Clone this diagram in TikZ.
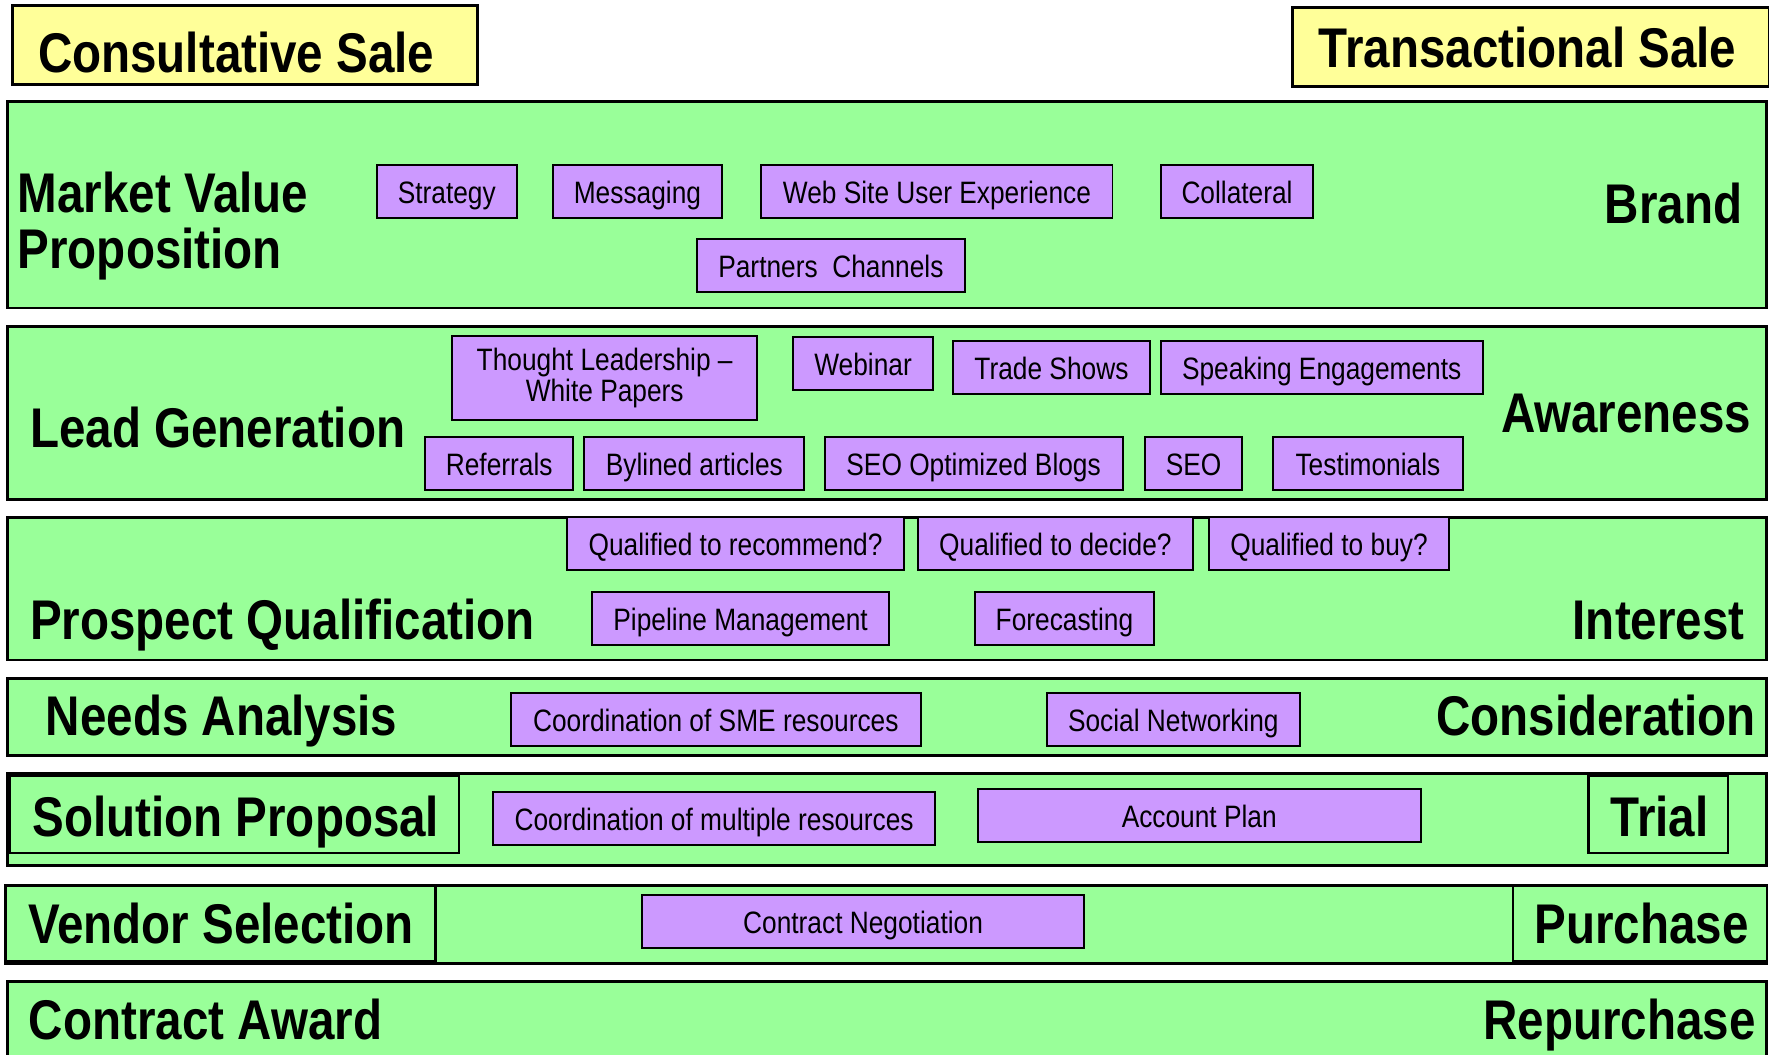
\documentclass[tikz,border=0pt]{standalone}
\usepackage{fontspec}
\setmainfont{Liberation Sans}[FakeStretch=0.85]
\usetikzlibrary{fit}
\definecolor{salebg}{HTML}{FFFF99}
\definecolor{bandbg}{HTML}{99FF99}
\definecolor{itembg}{HTML}{CC99FF}

\begin{document}
\begin{tikzpicture}[x=0.01cm, y=-0.01cm,
    band/.style={draw, line width=0.75pt, fill=bandbg, inner sep=0pt},
    framebox/.style={draw, line width=0.55pt, fill=bandbg, inner sep=0pt},
    sale/.style={draw, line width=0.75pt, fill=salebg, inner sep=0pt},
    itembox/.style={draw, line width=0.5pt, fill=itembg, inner sep=0pt, align=center,
        minimum height=0.47cm, font=\fontsize{7.8}{8}\selectfont},
    item/.style={itembox, text height=0.6em, text depth=0pt},
    head/.style={inner sep=0pt, align=left, font=\fontsize{14.1}{14.3}\selectfont\bfseries}]
    \useasboundingbox (0,0) rectangle (1568,935);

    \node[sale, fit={(11,5) (423,75)}] (consbox) {};
    \node[head, anchor=base west] (cons) at (33,64) {Consultative Sale};
    \node[sale, fit={(1146,7) (1568,77)}] (transbox) {};
    \node[head, anchor=base] (trans) at (1354,60) {Transactional Sale};

    \node[band, fit={(7,90) (1566,273)}] (band1) {};
    \node[band, fit={(7,289) (1566,443)}] (band2) {};
    \node[band, fit={(7,459) (1566,585)}] (band3) {};
    \node[band, fit={(7,601) (1566,670)}] (band4) {};
    \node[band, fit={(7,686) (1566,767)}] (band5) {};
    \node[band, fit={(5,785) (1566,854)}] (band6) {};
    \node[band, fit={(7,870) (1566,950)}] (band7) {};

    \node[head, anchor=base west] (mvp) at (15,188) {Market Value};
    \node[head, anchor=base west] (mvp2) at (15,238) {Proposition};
    \node[head, anchor=base east] (brand) at (1545,198) {Brand};
    \node[item, minimum width=1.24cm] (strat) at (396,169.5) {Strategy};
    \node[item, minimum width=1.50cm] (msg) at (565,169.5) {Messaging};
    \node[item, minimum width=3.11cm] (web) at (830.5,169.5) {Web Site User Experience};
    \node[item, minimum width=1.35cm] (coll) at (1096.5,169.5) {Collateral};
    \node[item, minimum width=2.37cm] (partn) at (736.5,235.5) {Partners\ \ Channels};

    \node[head, anchor=base west] (lead) at (26,397) {Lead Generation};
    \node[head, anchor=base east] (aware) at (1553,383) {Awareness};
    \node[itembox, minimum width=2.70cm, minimum height=0.75cm] (thought) at (536,335) {Thought Leadership --\\White Papers};
    \node[item, minimum width=1.24cm] (webinar) at (765,322.5) {Webinar};
    \node[item, minimum width=1.74cm] (trade) at (932,325.5) {Trade Shows};
    \node[item, minimum width=2.85cm] (speak) at (1171.5,325.5) {Speaking Engagements};
    \node[item, minimum width=1.31cm] (refer) at (442.5,410.5) {Referrals};
    \node[item, minimum width=1.95cm] (bylined) at (615.5,410.5) {Bylined articles};
    \node[item, minimum width=2.64cm] (blogs) at (863,410.5) {SEO Optimized Blogs};
    \node[item, minimum width=0.86cm] (seo) at (1058,410.5) {SEO};
    \node[item, minimum width=1.69cm] (testi) at (1212.5,410.5) {Testimonials};

    \node[head, anchor=base west] (prosp) at (26,567) {Prospect Qualification};
    \node[head, anchor=base east] (inter) at (1547,567) {Interest};
    \node[item, minimum width=2.98cm] (qrec) at (652,482) {Qualified to recommend?};
    \node[item, minimum width=2.43cm] (qdec) at (935.5,482) {Qualified to decide?};
    \node[item, minimum width=2.12cm] (qbuy) at (1178,482) {Qualified to buy?};
    \node[item, minimum width=2.63cm] (pipe) at (656.5,548) {Pipeline Management};
    \node[item, minimum width=1.59cm] (fore) at (943.5,548) {Forecasting};

    \node[head, anchor=base west] (needs) at (40,652) {Needs Analysis};
    \node[head, anchor=base east] (consid) at (1557,652) {Consideration};
    \node[item, minimum width=3.63cm] (sme) at (634.5,638) {Coordination of SME resources};
    \node[item, minimum width=2.24cm] (social) at (1040,638) {Social Networking};

    \node[framebox, fit={(9,688) (407,756)}] (solbox) {};
    \node[head, anchor=base] (sol) at (209,741) {Solution Proposal};
    \node[framebox, fit={(1408,688) (1532,756)}] (trialbox) {};
    \node[head, anchor=base] (trial) at (1471,741) {Trial};
    \node[item, minimum width=3.92cm] (multi) at (633,725.5) {Coordination of multiple resources};
    \node[item, minimum width=3.92cm] (acct) at (1063,722.5) {Account Plan};

    \node[framebox, fit={(5,785) (386,852)}] (vendbox) {};
    \node[head, anchor=base] (vend) at (196,836) {Vendor Selection};
    \node[framebox, fit={(1341,785) (1566,852)}] (purchbox) {};
    \node[head, anchor=base] (purch) at (1455,836) {Purchase};
    \node[item, minimum width=3.92cm] (negot) at (765,817) {Contract Negotiation};

    \node[head, anchor=base west] (award) at (25,921) {Contract Award};
    \node[head, anchor=base east] (repur) at (1557,921) {Repurchase};
\end{tikzpicture}
\end{document}
